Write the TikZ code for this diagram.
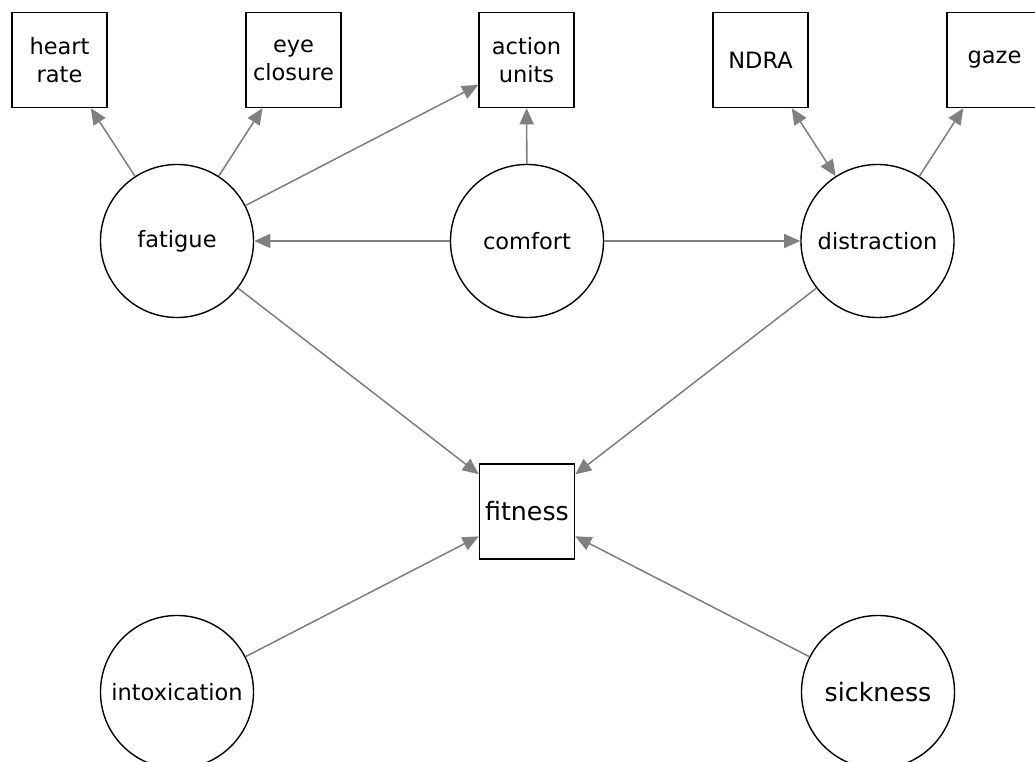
\documentclass[tikz,border=0pt]{standalone}
\usepackage{fontspec}
\setmainfont{DejaVu Sans}
\usetikzlibrary{arrows.meta}
\definecolor{linkgray}{RGB}{128,128,128}

\begin{document}
\begin{tikzpicture}[x=0.025cm,y=-0.025cm,
  latent/.style={circle,draw,line width=1pt,minimum size=3.825cm,inner sep=0pt,font=\fontsize{16}{20}\selectfont},
  observed/.style={rectangle,draw,line width=1pt,minimum size=2.375cm,inner sep=0pt,align=center,font=\fontsize{16}{20}\selectfont},
  big/.style={font=\fontsize{18}{22}\selectfont},
  link/.style={draw=linkgray,line width=1.1pt,-{Triangle[length=11.5pt,width=10pt]}}]
\useasboundingbox (0,0) rectangle (1035,762);
\clip (0,0) rectangle (1035,762);
%indicators
\node[observed] (heart) at (59.5,60) {heart\\rate};
\node[observed] (eye) at (293.5,60) {eye\\closure};
\node[observed] (action) at (526.5,60) {action\\units};
\node[observed] (ndra) at (760.5,60) {NDRA};
\node[observed] (gaze) at (994.5,60) {gaze};
%latent states
\node[latent] (fatigue) at (177,241) {fatigue};
\node[latent] (comfort) at (527,241) {comfort};
\node[latent] (distraction) at (877.5,241) {distraction};
\node[latent] (intoxication) at (177,692) {intoxication};
\node[latent,big] (sickness) at (878,692) {sickness};
%outcome
\node[observed,big] (fitness) at (527,511.5) {fitness};
%links
\foreach \from/\to in {fatigue/heart,fatigue/eye,fatigue/action,comfort/action,
  comfort/fatigue,comfort/distraction,distraction/gaze,
  fatigue/fitness,distraction/fitness,intoxication/fitness,sickness/fitness}
  \draw[link] (\from) -- (\to);
\draw[link,{Triangle[length=11.5pt,width=10pt]}-{Triangle[length=11.5pt,width=10pt]}] (ndra) -- (distraction);
\end{tikzpicture}
\end{document}
